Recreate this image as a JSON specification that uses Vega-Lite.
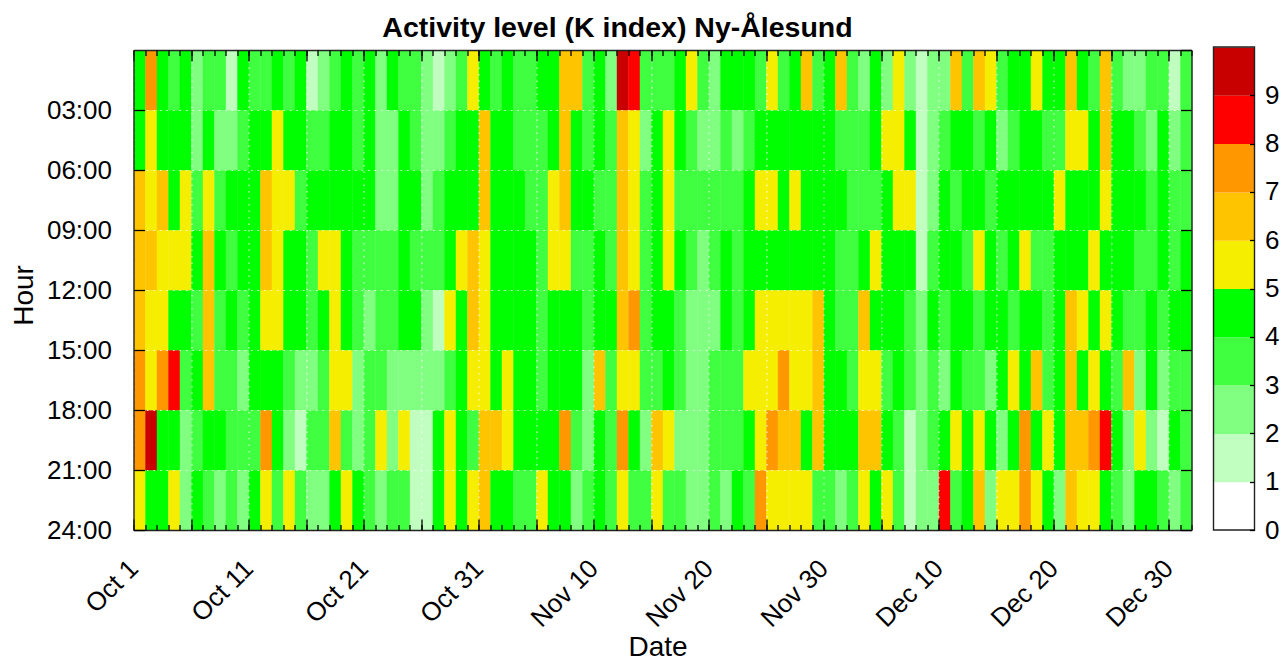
{
"$schema":"https://vega.github.io/schema/vega-lite/v6.json",
"background":"white",
"padding":{"left":9.5,"top":13,"right":5,"bottom":0},
"spacing":20,
"config":{"font":"Liberation Sans","view":{"stroke":null},"axis":{"labelFontSize":26,"titleFontSize":28,"labelColor":"#000","titleColor":"#000","titleFontWeight":"normal","labelOverlap":false,"labelFlush":false,"labelBound":false,"domainColor":"#222","domainWidth":1.4,"tickColor":"#000","tickWidth":1.3}},
"datasets":{"cells":[
{"d":"2015-10-01","h":0,"k":4},{"d":"2015-10-02","h":0,"k":7},{"d":"2015-10-03","h":0,"k":4},{"d":"2015-10-04","h":0,"k":3},{"d":"2015-10-05","h":0,"k":4},{"d":"2015-10-06","h":0,"k":2},{"d":"2015-10-07","h":0,"k":3},{"d":"2015-10-08","h":0,"k":3},{"d":"2015-10-09","h":0,"k":1},{"d":"2015-10-10","h":0,"k":4},
{"d":"2015-10-11","h":0,"k":3},{"d":"2015-10-12","h":0,"k":3},{"d":"2015-10-13","h":0,"k":4},{"d":"2015-10-14","h":0,"k":3},{"d":"2015-10-15","h":0,"k":4},{"d":"2015-10-16","h":0,"k":1},{"d":"2015-10-17","h":0,"k":2},{"d":"2015-10-18","h":0,"k":3},{"d":"2015-10-19","h":0,"k":4},{"d":"2015-10-20","h":0,"k":3},
{"d":"2015-10-21","h":0,"k":4},{"d":"2015-10-22","h":0,"k":2},{"d":"2015-10-23","h":0,"k":4},{"d":"2015-10-24","h":0,"k":3},{"d":"2015-10-25","h":0,"k":3},{"d":"2015-10-26","h":0,"k":2},{"d":"2015-10-27","h":0,"k":1},{"d":"2015-10-28","h":0,"k":2},{"d":"2015-10-29","h":0,"k":3},{"d":"2015-10-30","h":0,"k":5},
{"d":"2015-10-31","h":0,"k":4},{"d":"2015-11-01","h":0,"k":3},{"d":"2015-11-02","h":0,"k":4},{"d":"2015-11-03","h":0,"k":3},{"d":"2015-11-04","h":0,"k":3},{"d":"2015-11-05","h":0,"k":4},{"d":"2015-11-06","h":0,"k":4},{"d":"2015-11-07","h":0,"k":6},{"d":"2015-11-08","h":0,"k":6},{"d":"2015-11-09","h":0,"k":3},
{"d":"2015-11-10","h":0,"k":4},{"d":"2015-11-11","h":0,"k":2},{"d":"2015-11-12","h":0,"k":9},{"d":"2015-11-13","h":0,"k":8},{"d":"2015-11-14","h":0,"k":3},{"d":"2015-11-15","h":0,"k":3},{"d":"2015-11-16","h":0,"k":3},{"d":"2015-11-17","h":0,"k":4},{"d":"2015-11-18","h":0,"k":5},{"d":"2015-11-19","h":0,"k":3},
{"d":"2015-11-20","h":0,"k":2},{"d":"2015-11-21","h":0,"k":4},{"d":"2015-11-22","h":0,"k":4},{"d":"2015-11-23","h":0,"k":4},{"d":"2015-11-24","h":0,"k":3},{"d":"2015-11-25","h":0,"k":5},{"d":"2015-11-26","h":0,"k":3},{"d":"2015-11-27","h":0,"k":4},{"d":"2015-11-28","h":0,"k":6},{"d":"2015-11-29","h":0,"k":3},
{"d":"2015-11-30","h":0,"k":4},{"d":"2015-12-01","h":0,"k":6},{"d":"2015-12-02","h":0,"k":3},{"d":"2015-12-03","h":0,"k":2},{"d":"2015-12-04","h":0,"k":4},{"d":"2015-12-05","h":0,"k":2},{"d":"2015-12-06","h":0,"k":5},{"d":"2015-12-07","h":0,"k":2},{"d":"2015-12-08","h":0,"k":1},{"d":"2015-12-09","h":0,"k":2},
{"d":"2015-12-10","h":0,"k":2},{"d":"2015-12-11","h":0,"k":6},{"d":"2015-12-12","h":0,"k":3},{"d":"2015-12-13","h":0,"k":6},{"d":"2015-12-14","h":0,"k":5},{"d":"2015-12-15","h":0,"k":3},{"d":"2015-12-16","h":0,"k":4},{"d":"2015-12-17","h":0,"k":4},{"d":"2015-12-18","h":0,"k":5},{"d":"2015-12-19","h":0,"k":4},
{"d":"2015-12-20","h":0,"k":4},{"d":"2015-12-21","h":0,"k":6},{"d":"2015-12-22","h":0,"k":4},{"d":"2015-12-23","h":0,"k":3},{"d":"2015-12-24","h":0,"k":6},{"d":"2015-12-25","h":0,"k":3},{"d":"2015-12-26","h":0,"k":2},{"d":"2015-12-27","h":0,"k":2},{"d":"2015-12-28","h":0,"k":3},{"d":"2015-12-29","h":0,"k":3},
{"d":"2015-12-30","h":0,"k":1},{"d":"2015-12-31","h":0,"k":3},

{"d":"2015-10-01","h":3,"k":4},{"d":"2015-10-02","h":3,"k":5},{"d":"2015-10-03","h":3,"k":4},{"d":"2015-10-04","h":3,"k":4},{"d":"2015-10-05","h":3,"k":4},{"d":"2015-10-06","h":3,"k":2},{"d":"2015-10-07","h":3,"k":4},{"d":"2015-10-08","h":3,"k":2},{"d":"2015-10-09","h":3,"k":2},{"d":"2015-10-10","h":3,"k":3},
{"d":"2015-10-11","h":3,"k":4},{"d":"2015-10-12","h":3,"k":4},{"d":"2015-10-13","h":3,"k":5},{"d":"2015-10-14","h":3,"k":4},{"d":"2015-10-15","h":3,"k":4},{"d":"2015-10-16","h":3,"k":3},{"d":"2015-10-17","h":3,"k":3},{"d":"2015-10-18","h":3,"k":4},{"d":"2015-10-19","h":3,"k":4},{"d":"2015-10-20","h":3,"k":3},
{"d":"2015-10-21","h":3,"k":4},{"d":"2015-10-22","h":3,"k":2},{"d":"2015-10-23","h":3,"k":2},{"d":"2015-10-24","h":3,"k":4},{"d":"2015-10-25","h":3,"k":3},{"d":"2015-10-26","h":3,"k":2},{"d":"2015-10-27","h":3,"k":2},{"d":"2015-10-28","h":3,"k":3},{"d":"2015-10-29","h":3,"k":4},{"d":"2015-10-30","h":3,"k":4},
{"d":"2015-10-31","h":3,"k":6},{"d":"2015-11-01","h":3,"k":4},{"d":"2015-11-02","h":3,"k":4},{"d":"2015-11-03","h":3,"k":3},{"d":"2015-11-04","h":3,"k":3},{"d":"2015-11-05","h":3,"k":3},{"d":"2015-11-06","h":3,"k":4},{"d":"2015-11-07","h":3,"k":6},{"d":"2015-11-08","h":3,"k":4},{"d":"2015-11-09","h":3,"k":3},
{"d":"2015-11-10","h":3,"k":4},{"d":"2015-11-11","h":3,"k":3},{"d":"2015-11-12","h":3,"k":6},{"d":"2015-11-13","h":3,"k":5},{"d":"2015-11-14","h":3,"k":2},{"d":"2015-11-15","h":3,"k":4},{"d":"2015-11-16","h":3,"k":5},{"d":"2015-11-17","h":3,"k":4},{"d":"2015-11-18","h":3,"k":3},{"d":"2015-11-19","h":3,"k":2},
{"d":"2015-11-20","h":3,"k":2},{"d":"2015-11-21","h":3,"k":3},{"d":"2015-11-22","h":3,"k":2},{"d":"2015-11-23","h":3,"k":3},{"d":"2015-11-24","h":3,"k":4},{"d":"2015-11-25","h":3,"k":4},{"d":"2015-11-26","h":3,"k":4},{"d":"2015-11-27","h":3,"k":4},{"d":"2015-11-28","h":3,"k":4},{"d":"2015-11-29","h":3,"k":4},
{"d":"2015-11-30","h":3,"k":4},{"d":"2015-12-01","h":3,"k":3},{"d":"2015-12-02","h":3,"k":3},{"d":"2015-12-03","h":3,"k":3},{"d":"2015-12-04","h":3,"k":4},{"d":"2015-12-05","h":3,"k":5},{"d":"2015-12-06","h":3,"k":5},{"d":"2015-12-07","h":3,"k":4},{"d":"2015-12-08","h":3,"k":1},{"d":"2015-12-09","h":3,"k":2},
{"d":"2015-12-10","h":3,"k":3},{"d":"2015-12-11","h":3,"k":4},{"d":"2015-12-12","h":3,"k":4},{"d":"2015-12-13","h":3,"k":3},{"d":"2015-12-14","h":3,"k":4},{"d":"2015-12-15","h":3,"k":2},{"d":"2015-12-16","h":3,"k":3},{"d":"2015-12-17","h":3,"k":4},{"d":"2015-12-18","h":3,"k":4},{"d":"2015-12-19","h":3,"k":3},
{"d":"2015-12-20","h":3,"k":3},{"d":"2015-12-21","h":3,"k":5},{"d":"2015-12-22","h":3,"k":5},{"d":"2015-12-23","h":3,"k":4},{"d":"2015-12-24","h":3,"k":6},{"d":"2015-12-25","h":3,"k":4},{"d":"2015-12-26","h":3,"k":4},{"d":"2015-12-27","h":3,"k":3},{"d":"2015-12-28","h":3,"k":2},{"d":"2015-12-29","h":3,"k":4},
{"d":"2015-12-30","h":3,"k":2},{"d":"2015-12-31","h":3,"k":3},

{"d":"2015-10-01","h":6,"k":6},{"d":"2015-10-02","h":6,"k":5},{"d":"2015-10-03","h":6,"k":6},{"d":"2015-10-04","h":6,"k":4},{"d":"2015-10-05","h":6,"k":5},{"d":"2015-10-06","h":6,"k":3},{"d":"2015-10-07","h":6,"k":5},{"d":"2015-10-08","h":6,"k":3},{"d":"2015-10-09","h":6,"k":4},{"d":"2015-10-10","h":6,"k":4},
{"d":"2015-10-11","h":6,"k":4},{"d":"2015-10-12","h":6,"k":6},{"d":"2015-10-13","h":6,"k":5},{"d":"2015-10-14","h":6,"k":5},{"d":"2015-10-15","h":6,"k":3},{"d":"2015-10-16","h":6,"k":4},{"d":"2015-10-17","h":6,"k":4},{"d":"2015-10-18","h":6,"k":4},{"d":"2015-10-19","h":6,"k":4},{"d":"2015-10-20","h":6,"k":4},
{"d":"2015-10-21","h":6,"k":4},{"d":"2015-10-22","h":6,"k":2},{"d":"2015-10-23","h":6,"k":2},{"d":"2015-10-24","h":6,"k":4},{"d":"2015-10-25","h":6,"k":4},{"d":"2015-10-26","h":6,"k":2},{"d":"2015-10-27","h":6,"k":3},{"d":"2015-10-28","h":6,"k":4},{"d":"2015-10-29","h":6,"k":4},{"d":"2015-10-30","h":6,"k":4},
{"d":"2015-10-31","h":6,"k":6},{"d":"2015-11-01","h":6,"k":4},{"d":"2015-11-02","h":6,"k":4},{"d":"2015-11-03","h":6,"k":4},{"d":"2015-11-04","h":6,"k":3},{"d":"2015-11-05","h":6,"k":3},{"d":"2015-11-06","h":6,"k":5},{"d":"2015-11-07","h":6,"k":6},{"d":"2015-11-08","h":6,"k":4},{"d":"2015-11-09","h":6,"k":4},
{"d":"2015-11-10","h":6,"k":3},{"d":"2015-11-11","h":6,"k":3},{"d":"2015-11-12","h":6,"k":6},{"d":"2015-11-13","h":6,"k":5},{"d":"2015-11-14","h":6,"k":3},{"d":"2015-11-15","h":6,"k":4},{"d":"2015-11-16","h":6,"k":5},{"d":"2015-11-17","h":6,"k":3},{"d":"2015-11-18","h":6,"k":3},{"d":"2015-11-19","h":6,"k":3},
{"d":"2015-11-20","h":6,"k":3},{"d":"2015-11-21","h":6,"k":3},{"d":"2015-11-22","h":6,"k":3},{"d":"2015-11-23","h":6,"k":4},{"d":"2015-11-24","h":6,"k":5},{"d":"2015-11-25","h":6,"k":5},{"d":"2015-11-26","h":6,"k":4},{"d":"2015-11-27","h":6,"k":5},{"d":"2015-11-28","h":6,"k":4},{"d":"2015-11-29","h":6,"k":4},
{"d":"2015-11-30","h":6,"k":4},{"d":"2015-12-01","h":6,"k":4},{"d":"2015-12-02","h":6,"k":3},{"d":"2015-12-03","h":6,"k":3},{"d":"2015-12-04","h":6,"k":3},{"d":"2015-12-05","h":6,"k":4},{"d":"2015-12-06","h":6,"k":5},{"d":"2015-12-07","h":6,"k":5},{"d":"2015-12-08","h":6,"k":1},{"d":"2015-12-09","h":6,"k":2},
{"d":"2015-12-10","h":6,"k":4},{"d":"2015-12-11","h":6,"k":3},{"d":"2015-12-12","h":6,"k":4},{"d":"2015-12-13","h":6,"k":4},{"d":"2015-12-14","h":6,"k":3},{"d":"2015-12-15","h":6,"k":4},{"d":"2015-12-16","h":6,"k":4},{"d":"2015-12-17","h":6,"k":4},{"d":"2015-12-18","h":6,"k":4},{"d":"2015-12-19","h":6,"k":4},
{"d":"2015-12-20","h":6,"k":5},{"d":"2015-12-21","h":6,"k":4},{"d":"2015-12-22","h":6,"k":4},{"d":"2015-12-23","h":6,"k":4},{"d":"2015-12-24","h":6,"k":5},{"d":"2015-12-25","h":6,"k":4},{"d":"2015-12-26","h":6,"k":4},{"d":"2015-12-27","h":6,"k":4},{"d":"2015-12-28","h":6,"k":3},{"d":"2015-12-29","h":6,"k":4},
{"d":"2015-12-30","h":6,"k":3},{"d":"2015-12-31","h":6,"k":3},

{"d":"2015-10-01","h":9,"k":6},{"d":"2015-10-02","h":9,"k":6},{"d":"2015-10-03","h":9,"k":5},{"d":"2015-10-04","h":9,"k":5},{"d":"2015-10-05","h":9,"k":5},{"d":"2015-10-06","h":9,"k":4},{"d":"2015-10-07","h":9,"k":6},{"d":"2015-10-08","h":9,"k":4},{"d":"2015-10-09","h":9,"k":3},{"d":"2015-10-10","h":9,"k":4},
{"d":"2015-10-11","h":9,"k":4},{"d":"2015-10-12","h":9,"k":6},{"d":"2015-10-13","h":9,"k":5},{"d":"2015-10-14","h":9,"k":4},{"d":"2015-10-15","h":9,"k":4},{"d":"2015-10-16","h":9,"k":3},{"d":"2015-10-17","h":9,"k":5},{"d":"2015-10-18","h":9,"k":5},{"d":"2015-10-19","h":9,"k":4},{"d":"2015-10-20","h":9,"k":3},
{"d":"2015-10-21","h":9,"k":3},{"d":"2015-10-22","h":9,"k":3},{"d":"2015-10-23","h":9,"k":3},{"d":"2015-10-24","h":9,"k":4},{"d":"2015-10-25","h":9,"k":3},{"d":"2015-10-26","h":9,"k":3},{"d":"2015-10-27","h":9,"k":3},{"d":"2015-10-28","h":9,"k":4},{"d":"2015-10-29","h":9,"k":5},{"d":"2015-10-30","h":9,"k":6},
{"d":"2015-10-31","h":9,"k":5},{"d":"2015-11-01","h":9,"k":4},{"d":"2015-11-02","h":9,"k":4},{"d":"2015-11-03","h":9,"k":4},{"d":"2015-11-04","h":9,"k":4},{"d":"2015-11-05","h":9,"k":3},{"d":"2015-11-06","h":9,"k":5},{"d":"2015-11-07","h":9,"k":5},{"d":"2015-11-08","h":9,"k":3},{"d":"2015-11-09","h":9,"k":3},
{"d":"2015-11-10","h":9,"k":4},{"d":"2015-11-11","h":9,"k":3},{"d":"2015-11-12","h":9,"k":6},{"d":"2015-11-13","h":9,"k":5},{"d":"2015-11-14","h":9,"k":3},{"d":"2015-11-15","h":9,"k":4},{"d":"2015-11-16","h":9,"k":5},{"d":"2015-11-17","h":9,"k":4},{"d":"2015-11-18","h":9,"k":3},{"d":"2015-11-19","h":9,"k":2},
{"d":"2015-11-20","h":9,"k":3},{"d":"2015-11-21","h":9,"k":4},{"d":"2015-11-22","h":9,"k":3},{"d":"2015-11-23","h":9,"k":4},{"d":"2015-11-24","h":9,"k":4},{"d":"2015-11-25","h":9,"k":4},{"d":"2015-11-26","h":9,"k":4},{"d":"2015-11-27","h":9,"k":4},{"d":"2015-11-28","h":9,"k":4},{"d":"2015-11-29","h":9,"k":4},
{"d":"2015-11-30","h":9,"k":4},{"d":"2015-12-01","h":9,"k":3},{"d":"2015-12-02","h":9,"k":3},{"d":"2015-12-03","h":9,"k":4},{"d":"2015-12-04","h":9,"k":5},{"d":"2015-12-05","h":9,"k":4},{"d":"2015-12-06","h":9,"k":4},{"d":"2015-12-07","h":9,"k":4},{"d":"2015-12-08","h":9,"k":1},{"d":"2015-12-09","h":9,"k":3},
{"d":"2015-12-10","h":9,"k":4},{"d":"2015-12-11","h":9,"k":4},{"d":"2015-12-12","h":9,"k":3},{"d":"2015-12-13","h":9,"k":5},{"d":"2015-12-14","h":9,"k":4},{"d":"2015-12-15","h":9,"k":3},{"d":"2015-12-16","h":9,"k":4},{"d":"2015-12-17","h":9,"k":5},{"d":"2015-12-18","h":9,"k":3},{"d":"2015-12-19","h":9,"k":3},
{"d":"2015-12-20","h":9,"k":4},{"d":"2015-12-21","h":9,"k":4},{"d":"2015-12-22","h":9,"k":4},{"d":"2015-12-23","h":9,"k":5},{"d":"2015-12-24","h":9,"k":4},{"d":"2015-12-25","h":9,"k":4},{"d":"2015-12-26","h":9,"k":4},{"d":"2015-12-27","h":9,"k":3},{"d":"2015-12-28","h":9,"k":3},{"d":"2015-12-29","h":9,"k":4},
{"d":"2015-12-30","h":9,"k":3},{"d":"2015-12-31","h":9,"k":4},

{"d":"2015-10-01","h":12,"k":6},{"d":"2015-10-02","h":12,"k":5},{"d":"2015-10-03","h":12,"k":5},{"d":"2015-10-04","h":12,"k":4},{"d":"2015-10-05","h":12,"k":4},{"d":"2015-10-06","h":12,"k":3},{"d":"2015-10-07","h":12,"k":6},{"d":"2015-10-08","h":12,"k":3},{"d":"2015-10-09","h":12,"k":4},{"d":"2015-10-10","h":12,"k":3},
{"d":"2015-10-11","h":12,"k":4},{"d":"2015-10-12","h":12,"k":5},{"d":"2015-10-13","h":12,"k":5},{"d":"2015-10-14","h":12,"k":4},{"d":"2015-10-15","h":12,"k":4},{"d":"2015-10-16","h":12,"k":3},{"d":"2015-10-17","h":12,"k":4},{"d":"2015-10-18","h":12,"k":5},{"d":"2015-10-19","h":12,"k":4},{"d":"2015-10-20","h":12,"k":3},
{"d":"2015-10-21","h":12,"k":2},{"d":"2015-10-22","h":12,"k":3},{"d":"2015-10-23","h":12,"k":3},{"d":"2015-10-24","h":12,"k":4},{"d":"2015-10-25","h":12,"k":4},{"d":"2015-10-26","h":12,"k":2},{"d":"2015-10-27","h":12,"k":1},{"d":"2015-10-28","h":12,"k":5},{"d":"2015-10-29","h":12,"k":4},{"d":"2015-10-30","h":12,"k":6},
{"d":"2015-10-31","h":12,"k":5},{"d":"2015-11-01","h":12,"k":4},{"d":"2015-11-02","h":12,"k":4},{"d":"2015-11-03","h":12,"k":4},{"d":"2015-11-04","h":12,"k":4},{"d":"2015-11-05","h":12,"k":3},{"d":"2015-11-06","h":12,"k":4},{"d":"2015-11-07","h":12,"k":4},{"d":"2015-11-08","h":12,"k":4},{"d":"2015-11-09","h":12,"k":3},
{"d":"2015-11-10","h":12,"k":4},{"d":"2015-11-11","h":12,"k":4},{"d":"2015-11-12","h":12,"k":6},{"d":"2015-11-13","h":12,"k":7},{"d":"2015-11-14","h":12,"k":3},{"d":"2015-11-15","h":12,"k":4},{"d":"2015-11-16","h":12,"k":4},{"d":"2015-11-17","h":12,"k":3},{"d":"2015-11-18","h":12,"k":2},{"d":"2015-11-19","h":12,"k":2},
{"d":"2015-11-20","h":12,"k":2},{"d":"2015-11-21","h":12,"k":4},{"d":"2015-11-22","h":12,"k":3},{"d":"2015-11-23","h":12,"k":4},{"d":"2015-11-24","h":12,"k":5},{"d":"2015-11-25","h":12,"k":5},{"d":"2015-11-26","h":12,"k":5},{"d":"2015-11-27","h":12,"k":5},{"d":"2015-11-28","h":12,"k":5},{"d":"2015-11-29","h":12,"k":6},
{"d":"2015-11-30","h":12,"k":4},{"d":"2015-12-01","h":12,"k":3},{"d":"2015-12-02","h":12,"k":3},{"d":"2015-12-03","h":12,"k":6},{"d":"2015-12-04","h":12,"k":4},{"d":"2015-12-05","h":12,"k":4},{"d":"2015-12-06","h":12,"k":4},{"d":"2015-12-07","h":12,"k":3},{"d":"2015-12-08","h":12,"k":2},{"d":"2015-12-09","h":12,"k":4},
{"d":"2015-12-10","h":12,"k":3},{"d":"2015-12-11","h":12,"k":4},{"d":"2015-12-12","h":12,"k":4},{"d":"2015-12-13","h":12,"k":3},{"d":"2015-12-14","h":12,"k":4},{"d":"2015-12-15","h":12,"k":4},{"d":"2015-12-16","h":12,"k":3},{"d":"2015-12-17","h":12,"k":4},{"d":"2015-12-18","h":12,"k":4},{"d":"2015-12-19","h":12,"k":3},
{"d":"2015-12-20","h":12,"k":4},{"d":"2015-12-21","h":12,"k":6},{"d":"2015-12-22","h":12,"k":5},{"d":"2015-12-23","h":12,"k":4},{"d":"2015-12-24","h":12,"k":5},{"d":"2015-12-25","h":12,"k":4},{"d":"2015-12-26","h":12,"k":3},{"d":"2015-12-27","h":12,"k":3},{"d":"2015-12-28","h":12,"k":4},{"d":"2015-12-29","h":12,"k":3},
{"d":"2015-12-30","h":12,"k":4},{"d":"2015-12-31","h":12,"k":4},

{"d":"2015-10-01","h":15,"k":7},{"d":"2015-10-02","h":15,"k":5},{"d":"2015-10-03","h":15,"k":7},{"d":"2015-10-04","h":15,"k":8},{"d":"2015-10-05","h":15,"k":3},{"d":"2015-10-06","h":15,"k":4},{"d":"2015-10-07","h":15,"k":6},{"d":"2015-10-08","h":15,"k":3},{"d":"2015-10-09","h":15,"k":3},{"d":"2015-10-10","h":15,"k":2},
{"d":"2015-10-11","h":15,"k":4},{"d":"2015-10-12","h":15,"k":4},{"d":"2015-10-13","h":15,"k":4},{"d":"2015-10-14","h":15,"k":3},{"d":"2015-10-15","h":15,"k":2},{"d":"2015-10-16","h":15,"k":2},{"d":"2015-10-17","h":15,"k":3},{"d":"2015-10-18","h":15,"k":5},{"d":"2015-10-19","h":15,"k":5},{"d":"2015-10-20","h":15,"k":2},
{"d":"2015-10-21","h":15,"k":3},{"d":"2015-10-22","h":15,"k":3},{"d":"2015-10-23","h":15,"k":2},{"d":"2015-10-24","h":15,"k":2},{"d":"2015-10-25","h":15,"k":2},{"d":"2015-10-26","h":15,"k":2},{"d":"2015-10-27","h":15,"k":2},{"d":"2015-10-28","h":15,"k":3},{"d":"2015-10-29","h":15,"k":4},{"d":"2015-10-30","h":15,"k":5},
{"d":"2015-10-31","h":15,"k":5},{"d":"2015-11-01","h":15,"k":4},{"d":"2015-11-02","h":15,"k":5},{"d":"2015-11-03","h":15,"k":4},{"d":"2015-11-04","h":15,"k":4},{"d":"2015-11-05","h":15,"k":3},{"d":"2015-11-06","h":15,"k":4},{"d":"2015-11-07","h":15,"k":4},{"d":"2015-11-08","h":15,"k":4},{"d":"2015-11-09","h":15,"k":2},
{"d":"2015-11-10","h":15,"k":6},{"d":"2015-11-11","h":15,"k":3},{"d":"2015-11-12","h":15,"k":5},{"d":"2015-11-13","h":15,"k":5},{"d":"2015-11-14","h":15,"k":3},{"d":"2015-11-15","h":15,"k":3},{"d":"2015-11-16","h":15,"k":4},{"d":"2015-11-17","h":15,"k":3},{"d":"2015-11-18","h":15,"k":2},{"d":"2015-11-19","h":15,"k":2},
{"d":"2015-11-20","h":15,"k":3},{"d":"2015-11-21","h":15,"k":3},{"d":"2015-11-22","h":15,"k":3},{"d":"2015-11-23","h":15,"k":5},{"d":"2015-11-24","h":15,"k":5},{"d":"2015-11-25","h":15,"k":5},{"d":"2015-11-26","h":15,"k":7},{"d":"2015-11-27","h":15,"k":5},{"d":"2015-11-28","h":15,"k":5},{"d":"2015-11-29","h":15,"k":6},
{"d":"2015-11-30","h":15,"k":4},{"d":"2015-12-01","h":15,"k":4},{"d":"2015-12-02","h":15,"k":3},{"d":"2015-12-03","h":15,"k":5},{"d":"2015-12-04","h":15,"k":5},{"d":"2015-12-05","h":15,"k":3},{"d":"2015-12-06","h":15,"k":4},{"d":"2015-12-07","h":15,"k":3},{"d":"2015-12-08","h":15,"k":2},{"d":"2015-12-09","h":15,"k":3},
{"d":"2015-12-10","h":15,"k":2},{"d":"2015-12-11","h":15,"k":4},{"d":"2015-12-12","h":15,"k":3},{"d":"2015-12-13","h":15,"k":3},{"d":"2015-12-14","h":15,"k":2},{"d":"2015-12-15","h":15,"k":4},{"d":"2015-12-16","h":15,"k":5},{"d":"2015-12-17","h":15,"k":4},{"d":"2015-12-18","h":15,"k":6},{"d":"2015-12-19","h":15,"k":3},
{"d":"2015-12-20","h":15,"k":4},{"d":"2015-12-21","h":15,"k":6},{"d":"2015-12-22","h":15,"k":4},{"d":"2015-12-23","h":15,"k":5},{"d":"2015-12-24","h":15,"k":4},{"d":"2015-12-25","h":15,"k":3},{"d":"2015-12-26","h":15,"k":6},{"d":"2015-12-27","h":15,"k":2},{"d":"2015-12-28","h":15,"k":4},{"d":"2015-12-29","h":15,"k":2},
{"d":"2015-12-30","h":15,"k":3},{"d":"2015-12-31","h":15,"k":3},

{"d":"2015-10-01","h":18,"k":7},{"d":"2015-10-02","h":18,"k":9},{"d":"2015-10-03","h":18,"k":4},{"d":"2015-10-04","h":18,"k":4},{"d":"2015-10-05","h":18,"k":2},{"d":"2015-10-06","h":18,"k":3},{"d":"2015-10-07","h":18,"k":4},{"d":"2015-10-08","h":18,"k":4},{"d":"2015-10-09","h":18,"k":3},{"d":"2015-10-10","h":18,"k":3},
{"d":"2015-10-11","h":18,"k":3},{"d":"2015-10-12","h":18,"k":7},{"d":"2015-10-13","h":18,"k":4},{"d":"2015-10-14","h":18,"k":2},{"d":"2015-10-15","h":18,"k":1},{"d":"2015-10-16","h":18,"k":3},{"d":"2015-10-17","h":18,"k":3},{"d":"2015-10-18","h":18,"k":6},{"d":"2015-10-19","h":18,"k":3},{"d":"2015-10-20","h":18,"k":2},
{"d":"2015-10-21","h":18,"k":3},{"d":"2015-10-22","h":18,"k":5},{"d":"2015-10-23","h":18,"k":2},{"d":"2015-10-24","h":18,"k":5},{"d":"2015-10-25","h":18,"k":1},{"d":"2015-10-26","h":18,"k":1},{"d":"2015-10-27","h":18,"k":4},{"d":"2015-10-28","h":18,"k":5},{"d":"2015-10-29","h":18,"k":4},{"d":"2015-10-30","h":18,"k":3},
{"d":"2015-10-31","h":18,"k":6},{"d":"2015-11-01","h":18,"k":6},{"d":"2015-11-02","h":18,"k":5},{"d":"2015-11-03","h":18,"k":4},{"d":"2015-11-04","h":18,"k":4},{"d":"2015-11-05","h":18,"k":4},{"d":"2015-11-06","h":18,"k":4},{"d":"2015-11-07","h":18,"k":7},{"d":"2015-11-08","h":18,"k":3},{"d":"2015-11-09","h":18,"k":2},
{"d":"2015-11-10","h":18,"k":4},{"d":"2015-11-11","h":18,"k":3},{"d":"2015-11-12","h":18,"k":7},{"d":"2015-11-13","h":18,"k":4},{"d":"2015-11-14","h":18,"k":2},{"d":"2015-11-15","h":18,"k":6},{"d":"2015-11-16","h":18,"k":5},{"d":"2015-11-17","h":18,"k":2},{"d":"2015-11-18","h":18,"k":2},{"d":"2015-11-19","h":18,"k":2},
{"d":"2015-11-20","h":18,"k":3},{"d":"2015-11-21","h":18,"k":3},{"d":"2015-11-22","h":18,"k":3},{"d":"2015-11-23","h":18,"k":4},{"d":"2015-11-24","h":18,"k":5},{"d":"2015-11-25","h":18,"k":7},{"d":"2015-11-26","h":18,"k":6},{"d":"2015-11-27","h":18,"k":6},{"d":"2015-11-28","h":18,"k":4},{"d":"2015-11-29","h":18,"k":6},
{"d":"2015-11-30","h":18,"k":4},{"d":"2015-12-01","h":18,"k":4},{"d":"2015-12-02","h":18,"k":4},{"d":"2015-12-03","h":18,"k":6},{"d":"2015-12-04","h":18,"k":6},{"d":"2015-12-05","h":18,"k":4},{"d":"2015-12-06","h":18,"k":3},{"d":"2015-12-07","h":18,"k":1},{"d":"2015-12-08","h":18,"k":2},{"d":"2015-12-09","h":18,"k":3},
{"d":"2015-12-10","h":18,"k":4},{"d":"2015-12-11","h":18,"k":5},{"d":"2015-12-12","h":18,"k":4},{"d":"2015-12-13","h":18,"k":5},{"d":"2015-12-14","h":18,"k":4},{"d":"2015-12-15","h":18,"k":2},{"d":"2015-12-16","h":18,"k":4},{"d":"2015-12-17","h":18,"k":7},{"d":"2015-12-18","h":18,"k":4},{"d":"2015-12-19","h":18,"k":5},
{"d":"2015-12-20","h":18,"k":4},{"d":"2015-12-21","h":18,"k":6},{"d":"2015-12-22","h":18,"k":6},{"d":"2015-12-23","h":18,"k":7},{"d":"2015-12-24","h":18,"k":8},{"d":"2015-12-25","h":18,"k":4},{"d":"2015-12-26","h":18,"k":2},{"d":"2015-12-27","h":18,"k":5},{"d":"2015-12-28","h":18,"k":2},{"d":"2015-12-29","h":18,"k":1},
{"d":"2015-12-30","h":18,"k":4},{"d":"2015-12-31","h":18,"k":3},

{"d":"2015-10-01","h":21,"k":5},{"d":"2015-10-02","h":21,"k":4},{"d":"2015-10-03","h":21,"k":4},{"d":"2015-10-04","h":21,"k":5},{"d":"2015-10-05","h":21,"k":2},{"d":"2015-10-06","h":21,"k":4},{"d":"2015-10-07","h":21,"k":3},{"d":"2015-10-08","h":21,"k":2},{"d":"2015-10-09","h":21,"k":3},{"d":"2015-10-10","h":21,"k":2},
{"d":"2015-10-11","h":21,"k":4},{"d":"2015-10-12","h":21,"k":5},{"d":"2015-10-13","h":21,"k":3},{"d":"2015-10-14","h":21,"k":5},{"d":"2015-10-15","h":21,"k":3},{"d":"2015-10-16","h":21,"k":2},{"d":"2015-10-17","h":21,"k":2},{"d":"2015-10-18","h":21,"k":4},{"d":"2015-10-19","h":21,"k":5},{"d":"2015-10-20","h":21,"k":4},
{"d":"2015-10-21","h":21,"k":3},{"d":"2015-10-22","h":21,"k":2},{"d":"2015-10-23","h":21,"k":3},{"d":"2015-10-24","h":21,"k":3},{"d":"2015-10-25","h":21,"k":1},{"d":"2015-10-26","h":21,"k":1},{"d":"2015-10-27","h":21,"k":4},{"d":"2015-10-28","h":21,"k":5},{"d":"2015-10-29","h":21,"k":4},{"d":"2015-10-30","h":21,"k":5},
{"d":"2015-10-31","h":21,"k":6},{"d":"2015-11-01","h":21,"k":4},{"d":"2015-11-02","h":21,"k":4},{"d":"2015-11-03","h":21,"k":3},{"d":"2015-11-04","h":21,"k":3},{"d":"2015-11-05","h":21,"k":5},{"d":"2015-11-06","h":21,"k":4},{"d":"2015-11-07","h":21,"k":4},{"d":"2015-11-08","h":21,"k":2},{"d":"2015-11-09","h":21,"k":3},
{"d":"2015-11-10","h":21,"k":4},{"d":"2015-11-11","h":21,"k":3},{"d":"2015-11-12","h":21,"k":5},{"d":"2015-11-13","h":21,"k":3},{"d":"2015-11-14","h":21,"k":3},{"d":"2015-11-15","h":21,"k":5},{"d":"2015-11-16","h":21,"k":3},{"d":"2015-11-17","h":21,"k":3},{"d":"2015-11-18","h":21,"k":2},{"d":"2015-11-19","h":21,"k":2},
{"d":"2015-11-20","h":21,"k":3},{"d":"2015-11-21","h":21,"k":2},{"d":"2015-11-22","h":21,"k":4},{"d":"2015-11-23","h":21,"k":3},{"d":"2015-11-24","h":21,"k":7},{"d":"2015-11-25","h":21,"k":5},{"d":"2015-11-26","h":21,"k":5},{"d":"2015-11-27","h":21,"k":5},{"d":"2015-11-28","h":21,"k":5},{"d":"2015-11-29","h":21,"k":3},
{"d":"2015-11-30","h":21,"k":3},{"d":"2015-12-01","h":21,"k":2},{"d":"2015-12-02","h":21,"k":3},{"d":"2015-12-03","h":21,"k":5},{"d":"2015-12-04","h":21,"k":4},{"d":"2015-12-05","h":21,"k":5},{"d":"2015-12-06","h":21,"k":3},{"d":"2015-12-07","h":21,"k":1},{"d":"2015-12-08","h":21,"k":2},{"d":"2015-12-09","h":21,"k":2},
{"d":"2015-12-10","h":21,"k":8},{"d":"2015-12-11","h":21,"k":3},{"d":"2015-12-12","h":21,"k":4},{"d":"2015-12-13","h":21,"k":6},{"d":"2015-12-14","h":21,"k":2},{"d":"2015-12-15","h":21,"k":5},{"d":"2015-12-16","h":21,"k":5},{"d":"2015-12-17","h":21,"k":7},{"d":"2015-12-18","h":21,"k":5},{"d":"2015-12-19","h":21,"k":4},
{"d":"2015-12-20","h":21,"k":2},{"d":"2015-12-21","h":21,"k":6},{"d":"2015-12-22","h":21,"k":5},{"d":"2015-12-23","h":21,"k":5},{"d":"2015-12-24","h":21,"k":4},{"d":"2015-12-25","h":21,"k":3},{"d":"2015-12-26","h":21,"k":2},{"d":"2015-12-27","h":21,"k":4},{"d":"2015-12-28","h":21,"k":4},{"d":"2015-12-29","h":21,"k":3},
{"d":"2015-12-30","h":21,"k":2},{"d":"2015-12-31","h":21,"k":3}
],
"levels":[{"k":0},{"k":1},{"k":2},{"k":3},{"k":4},{"k":5},{"k":6},{"k":7},{"k":8},{"k":9}]},
"hconcat":[
{"width":1058,"height":480,
"title":{"text":"Activity level (K index) Ny-Ålesund","fontSize":28.5,"fontWeight":"bold","color":"#000","anchor":"middle","dx":-45,"offset":7},
"data":{"name":"cells"},
"resolve":{"axis":{"x":"independent","y":"independent"}},
"layer":[
{"mark":{"type":"rect","binSpacing":0,"strokeWidth":0.4},
"encoding":{
"x":{"field":"d","type":"temporal","timeUnit":"utcyearmonthdate","scale":{"type":"utc","domain":["2015-10-01","2016-01-01"]},
"axis":{"zindex":1,"orient":"bottom","title":"Date","titlePadding":2,"titleX":524,"values":["2015-10-01","2015-10-06","2015-10-11","2015-10-16","2015-10-21","2015-10-26","2015-10-31","2015-11-05","2015-11-10","2015-11-15","2015-11-20","2015-11-25","2015-11-30","2015-12-05","2015-12-10","2015-12-15","2015-12-20","2015-12-25","2015-12-30"],"labelExpr":"indexof([1,11,21,31,10,20,30],utcdate(datum.value))>=0?utcFormat(datum.value,'%b %-d'):''","labelAngle":-45,"labelAlign":"right","labelBaseline":"top","labelPadding":36,"labelOffset":-9,"tickSize":-11,"grid":true,"gridColor":"#fff","gridDash":[1.5,5],"gridWidth":1.2,"gridOpacity":0.8}},
"y":{"field":"h","type":"quantitative","bin":{"step":3,"extent":[0,24]},"scale":{"domain":[0,24],"reverse":true},
"axis":{"zindex":1,"orient":"left","title":"Hour","titlePadding":8,"titleY":245,"values":[3,6,9,12,15,18,21,24],"labelExpr":"(datum.value<10?'0':'')+datum.value+':00'","labelPadding":33,"tickSize":-11,"grid":true,"gridColor":"#fff","gridDash":[1.5,5],"gridWidth":1.2,"gridOpacity":0.8}},
"color":{"field":"k","type":"ordinal","legend":null,"scale":{"domain":[0,1,2,3,4,5,6,7,8,9],"range":["#ffffff","#c0ffc0","#80ff80","#40ff40","#00ff00","#f5ee00","#ffc400","#ff9800","#ff0000","#c80000"]}},
"stroke":{"field":"k","type":"ordinal","legend":null,"scale":{"domain":[0,1,2,3,4,5,6,7,8,9],"range":["#ffffff","#c0ffc0","#80ff80","#40ff40","#00ff00","#f5ee00","#ffc400","#ff9800","#ff0000","#c80000"]}}
}},
{"mark":"rect","transform":[{"filter":"false"}],
"encoding":{
"x":{"field":"d","type":"temporal","timeUnit":"utcyearmonthdate","axis":{"zindex":1,"orient":"bottom","title":null,"labels":false,"domain":false,"tickCount":{"interval":"day","step":1},"tickSize":-5.5,"grid":false}},
"y":{"field":"h","type":"quantitative","bin":{"step":3,"extent":[0,24]},"axis":{"zindex":1,"orient":"right","title":null,"labels":false,"values":[0,3,6,9,12,15,18,21,24],"tickSize":-11,"grid":false}}
}},
{"mark":"rect","transform":[{"filter":"false"}],
"encoding":{
"x":{"field":"d","type":"temporal","timeUnit":"utcyearmonthdate","axis":{"zindex":1,"orient":"top","title":null,"labels":false,"values":["2015-10-01","2015-10-06","2015-10-11","2015-10-16","2015-10-21","2015-10-26","2015-10-31","2015-11-05","2015-11-10","2015-11-15","2015-11-20","2015-11-25","2015-11-30","2015-12-05","2015-12-10","2015-12-15","2015-12-20","2015-12-25","2015-12-30"],"tickSize":-11,"grid":false}}
}},
{"mark":"rect","transform":[{"filter":"false"}],
"encoding":{
"x":{"field":"d","type":"temporal","timeUnit":"utcyearmonthdate","axis":{"zindex":1,"orient":"top","title":null,"labels":false,"domain":false,"tickCount":{"interval":"day","step":1},"tickSize":-5.5,"grid":false}}
}}
]},
{"width":41,"height":480,
"layer":[
{"data":{"name":"levels"},"mark":"rect",
"encoding":{
"y":{"field":"k","type":"quantitative","bin":{"step":1,"extent":[0,10]},"scale":{"domain":[0,10],"range":[480,-3]},
"axis":{"zindex":1,"orient":"right","title":null,"values":[0,1,2,3,4,5,6,7,8,9],"domain":false,"tickSize":-5,"labelPadding":15,"grid":false}},
"color":{"field":"k","type":"ordinal","legend":null,"scale":{"domain":[0,1,2,3,4,5,6,7,8,9],"range":["#ffffff","#c0ffc0","#80ff80","#40ff40","#00ff00","#f5ee00","#ffc400","#ff9800","#ff0000","#c80000"]}}
}},
{"data":{"values":[{}]},"mark":{"type":"rect","fill":null,"stroke":"#222","strokeWidth":1.4},
"encoding":{"y":{"datum":0,"type":"quantitative"},"y2":{"datum":10}}}
]}
]
}
